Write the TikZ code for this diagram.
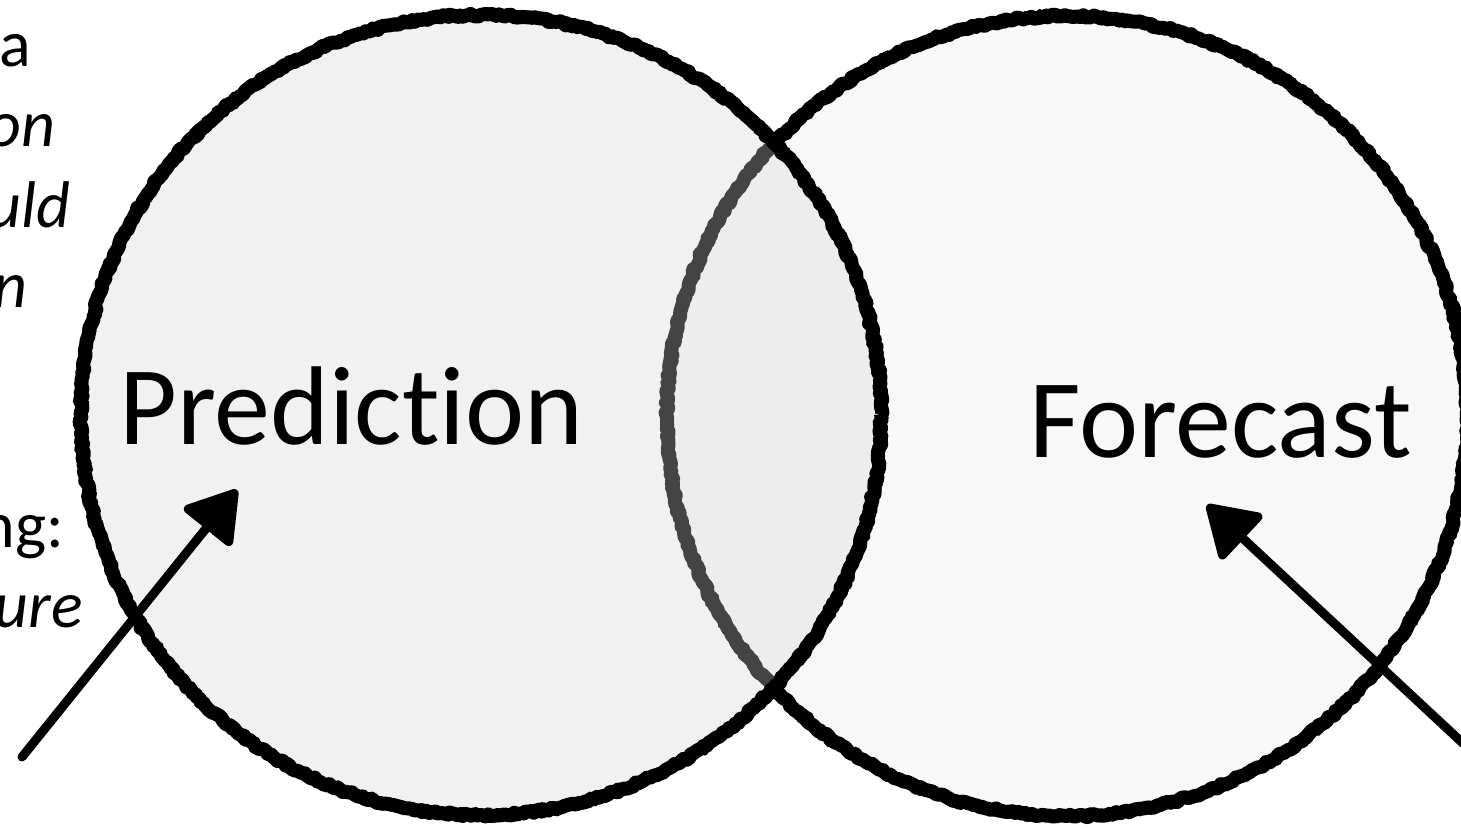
\documentclass[tikz,border=0pt]{standalone}
\usepackage{fontspec}
\setmainfont{Carlito}[Ligatures={NoCommon}]
\usetikzlibrary{arrows.meta,decorations.pathmorphing}
\definecolor{rfill}{RGB}{248,248,248}
\definecolor{lfill}{RGB}{214,214,214}
\tikzset{
  rough/.style={decorate,decoration={random steps,segment length=3pt,amplitude=1.5pt}},
  rougher/.style={decorate,decoration={random steps,segment length=4pt,amplitude=3.5pt}},
  outline/.style={draw=black,line width=14pt,rough,line join=round},
  outlinetwo/.style={draw=black,line width=5pt,rougher,line join=round},
  bigtext/.style={font=\fontsize{112pt}{112pt}\selectfont,inner sep=0pt,anchor=base west},
  sidetext/.style={font=\fontsize{66pt}{66pt}\selectfont,inner sep=0pt,anchor=base east},
  arrowline/.style={draw=black,line width=9pt,line cap=round,line join=round,-{Triangle[length=54pt,width=66pt,round]}}
}
\begin{document}
\begin{tikzpicture}[x=1pt,y=-1pt]
\useasboundingbox (0,0) rectangle (1461,829);
\fill[white] (0,0) rectangle (1461,829);
\pgfmathsetseed{7}
\coordinate (cl) at (481,415);
\coordinate (cr) at (1067,416);
% right circle
\fill[rfill] (cr) circle[radius=400pt];
\path[outline] (cr) circle[radius=400pt];
\path[outlinetwo] (cr) circle[radius=402pt];
% left circle, semi-transparent
\fill[lfill,fill opacity=0.32] (cl) circle[radius=400pt];
\path[outline] (cl) circle[radius=400pt];
\path[outlinetwo] (cl) circle[radius=402pt];
% labels
\node[bigtext] (pred) at (119,444) {Prediction};
\node[bigtext] (fore) at (1029,457) {Forecast};
% cut-off side text
\node[sidetext] (t1) at (31,67) {a};
\node[sidetext] (t2) at (56,147) {\itshape on};
\node[sidetext] (t3) at (71,227) {\itshape uld};
\node[sidetext] (t4) at (28,307) {\itshape n};
\node[sidetext] (t5) at (64,547) {ng:};
\node[sidetext] (t6) at (83,627) {\itshape ure};
% arrows
\coordinate (la0) at (22,757);
\coordinate (la1) at (237,490);
\coordinate (ra0) at (1468,748);
\coordinate (ra1) at (1207,505);
\draw[arrowline] (la0) -- (la1);
\draw[arrowline] (ra0) -- (ra1);
\end{tikzpicture}
\end{document}
